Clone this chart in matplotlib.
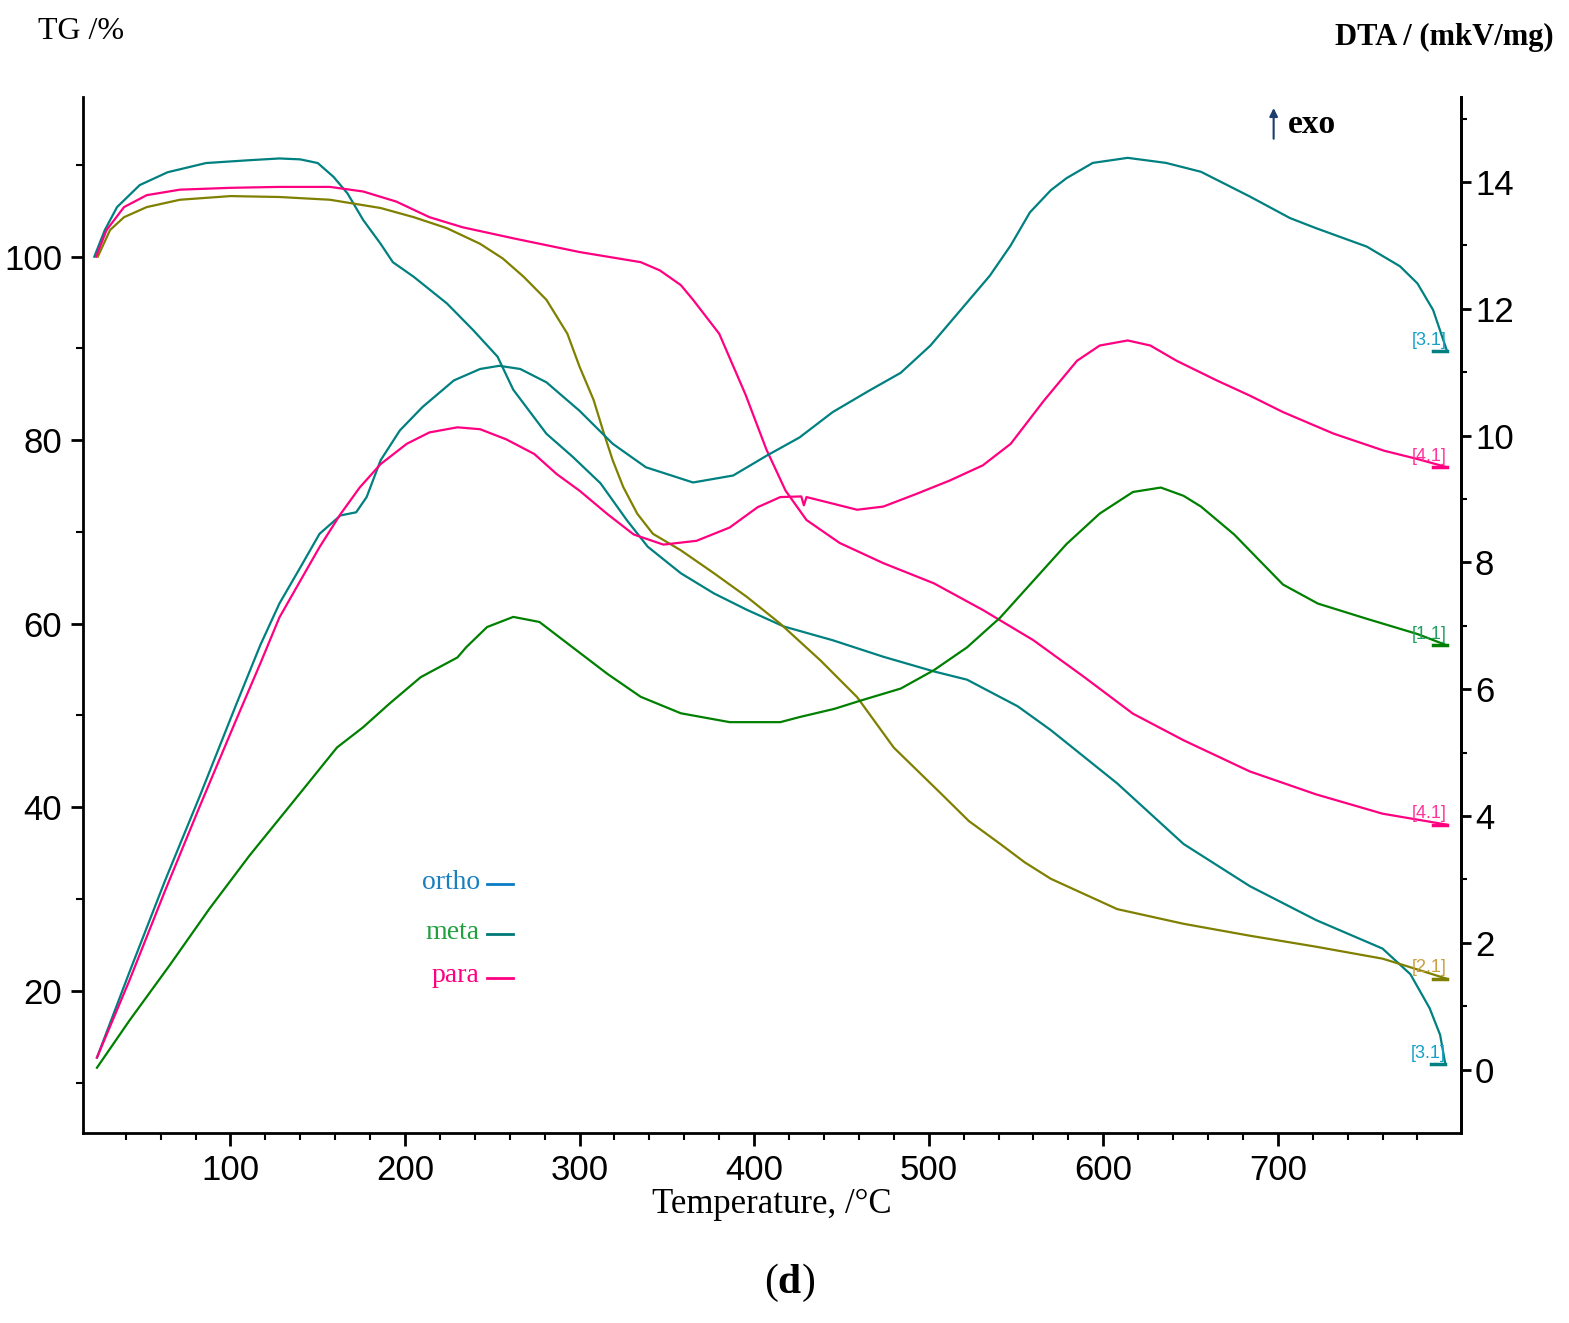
import matplotlib
matplotlib.use('Agg')
import matplotlib.pyplot as plt
from matplotlib.ticker import FixedLocator

# TG curves (left axis, %)
temp_ortho_tg = [22, 28, 35, 48, 64, 86, 110, 128, 140, 150, 159, 167, 176, 186, 193, 205, 224, 239, 253, 262,
                 281, 296, 312, 327, 339, 358, 377, 396, 417, 445, 474, 503, 522, 537, 551, 570, 589, 608, 646, 684,
                 722, 760, 776, 787, 793, 796]
tg_ortho = [100.0, 102.9, 105.4, 107.8, 109.2, 110.2, 110.5, 110.7, 110.6, 110.2, 108.7, 106.9, 104.0, 101.4, 99.4,
            97.8, 94.9, 92.0, 89.1, 85.5, 80.7, 78.2, 75.3, 71.3, 68.4, 65.5, 63.3, 61.5, 59.7, 58.2, 56.4, 54.8,
            53.9, 52.4, 51.0, 48.4, 45.5, 42.6, 36.0, 31.4, 27.7, 24.6, 21.8, 18.1, 15.2, 12.0]

temp_meta_tg = [24, 31, 39, 52, 71, 100, 128, 157, 186, 205, 224, 243, 256, 268, 281, 293, 300, 308, 314, 319,
                325, 333, 342, 358, 377, 396, 415, 438, 459, 480, 507, 523, 541, 555, 570, 608, 646, 684, 722, 760,
                772, 797]
tg_meta = [100.0, 102.9, 104.3, 105.4, 106.2, 106.6, 106.5, 106.2, 105.3, 104.3, 103.1, 101.4, 99.8, 97.8, 95.3,
           91.6, 88.0, 84.4, 80.7, 77.8, 74.9, 72.0, 69.8, 68.0, 65.5, 62.9, 60.0, 56.0, 52.0, 46.5, 41.5, 38.5,
           36.0, 34.0, 32.2, 28.9, 27.3, 26.0, 24.8, 23.5, 22.8, 21.3]

temp_para_tg = [23, 29, 39, 52, 71, 100, 128, 157, 176, 195, 214, 233, 262, 300, 335, 346, 358, 365, 380, 395,
                407, 418, 430, 449, 474, 503, 531, 560, 589, 617, 646, 684, 722, 760, 797]
tg_para = [100.0, 102.9, 105.4, 106.7, 107.3, 107.5, 107.6, 107.6, 107.1, 106.0, 104.3, 103.2, 102.0, 100.5, 99.4,
           98.5, 96.9, 95.3, 91.6, 85.0, 79.0, 74.5, 71.3, 68.8, 66.6, 64.4, 61.5, 58.2, 54.2, 50.2, 47.3, 43.9,
           41.4, 39.3, 38.1]

# DTA curves (right axis, mkV/mg)
temp_ortho_dta = [23.5, 42, 62.5, 82.5, 103, 117, 128, 140, 151, 163, 172, 178, 186, 197, 210, 228, 243, 254, 266,
                  281, 300, 319, 338, 365, 388, 407, 426, 445, 466, 484, 501, 518, 535, 547, 558, 570, 579, 594,
                  614, 636, 656, 684, 707, 722, 751, 770, 780, 789, 797]
dta_ortho = [0.19, 1.53, 2.98, 4.32, 5.74, 6.69, 7.35, 7.92, 8.45, 8.74, 8.79, 9.03, 9.61, 10.08, 10.45, 10.87,
             11.05, 11.10, 11.05, 10.84, 10.39, 9.87, 9.50, 9.26, 9.37, 9.68, 9.97, 10.37, 10.71, 10.99, 11.42,
             11.97, 12.52, 13.0, 13.52, 13.87, 14.06, 14.30, 14.38, 14.30, 14.16, 13.77, 13.43, 13.27, 12.98,
             12.67, 12.40, 11.98, 11.33]

temp_para_dta = [23.5, 42, 62.5, 82.5, 103, 117, 128, 140, 151, 163, 174, 186, 201, 214, 230, 243, 258, 274, 287,
                 300, 316, 331, 348, 367, 386, 402, 415, 427, 428.5, 430, 446, 459, 474, 493, 512, 531, 547, 566,
                 585, 598, 614, 627, 642, 665, 684, 703, 732, 761, 780, 797]
dta_para = [0.19, 1.40, 2.82, 4.16, 5.50, 6.40, 7.13, 7.71, 8.24, 8.76, 9.18, 9.55, 9.87, 10.05, 10.13, 10.10,
            9.94, 9.71, 9.39, 9.13, 8.76, 8.44, 8.28, 8.34, 8.55, 8.87, 9.03, 9.04, 8.90, 9.03, 8.92, 8.83, 8.88,
            9.08, 9.29, 9.53, 9.87, 10.55, 11.18, 11.42, 11.50, 11.42, 11.18, 10.87, 10.63, 10.37, 10.03, 9.76,
            9.63, 9.50]

temp_meta_dta = [23.5, 42, 65, 88, 111, 134, 161, 176, 191, 209, 230, 235, 247, 262, 277, 296, 316, 335, 358, 386,
                 415, 426, 446, 461, 484, 503, 522, 541, 560, 579, 598, 617, 633, 646, 656, 675, 703, 723, 751,
                 780, 797]
dta_meta = [0.03, 0.77, 1.64, 2.54, 3.38, 4.16, 5.08, 5.40, 5.77, 6.19, 6.50, 6.66, 6.98, 7.14, 7.06, 6.66, 6.24,
            5.88, 5.62, 5.48, 5.48, 5.56, 5.69, 5.82, 6.01, 6.30, 6.66, 7.13, 7.71, 8.29, 8.77, 9.11, 9.18, 9.05,
            8.88, 8.44, 7.65, 7.35, 7.11, 6.87, 6.69]

x_major = [100, 200, 300, 400, 500, 600, 700]
x_minor = [t for t in range(40, 800, 20) if t % 100 != 0]
tg_major = [20, 40, 60, 80, 100]
tg_minor = [10, 30, 50, 70, 90, 110]
dta_major = [0, 2, 4, 6, 8, 10, 12, 14]
dta_minor = [1, 3, 5, 7, 9, 11, 13, 15]

TEAL = '#008080'
OLIVE = '#808000'
PINK = '#ff0080'
GREEN = '#008000'

plt.rcParams['font.family'] = ['Liberation Sans']
plt.rcParams['mathtext.fontset'] = 'custom'
plt.rcParams['mathtext.rm'] = 'Liberation Serif'
plt.rcParams['mathtext.bf'] = 'Liberation Serif:bold'

fig = plt.figure(figsize=(15.69, 13.23), dpi=100)
ax = fig.add_axes([0.0529, 0.1436, 0.8783, 0.7831])
ax2 = ax.twinx()

lw = 1.6
ax.plot(temp_ortho_tg, tg_ortho, color=TEAL, lw=lw)
ax.plot(temp_meta_tg, tg_meta, color=OLIVE, lw=lw)
ax.plot(temp_para_tg, tg_para, color=PINK, lw=lw)
ax2.plot(temp_ortho_dta, dta_ortho, color=TEAL, lw=lw)
ax2.plot(temp_para_dta, dta_para, color=PINK, lw=lw)
ax2.plot(temp_meta_dta, dta_meta, color=GREEN, lw=lw)

ax.set_xlim(15.5, 805)
ax.set_ylim(4.5, 117.4)
ax2.set_ylim(-1.0, 15.34)

for a in (ax, ax2):
    a.spines['top'].set_visible(False)
    for s in a.spines.values():
        s.set_linewidth(2)
ax2.spines['left'].set_visible(False)
ax2.spines['bottom'].set_visible(False)

ax.xaxis.set_major_locator(FixedLocator(x_major))
ax.xaxis.set_minor_locator(FixedLocator(x_minor))
ax.yaxis.set_major_locator(FixedLocator(tg_major))
ax.yaxis.set_minor_locator(FixedLocator(tg_minor))
ax2.yaxis.set_major_locator(FixedLocator(dta_major))
ax2.yaxis.set_minor_locator(FixedLocator(dta_minor))

ax.tick_params(which='major', direction='out', length=9, width=2, labelsize=25, pad=6)
ax.tick_params(which='minor', direction='out', length=5, width=1.5)
ax2.tick_params(which='major', direction='out', length=7, width=2, labelsize=25, pad=3)
ax2.tick_params(which='minor', direction='out', length=4, width=1.5)

ax.set_xlabel('Temperature, /°C', family='Liberation Serif', fontsize=25, labelpad=1)

# curve end labels
ends = [(ax2, temp_ortho_dta, dta_ortho, '[3.1]', TEAL, '#16a0c8'),
        (ax2, temp_para_dta, dta_para, '[4.1]', PINK, '#ff3399'),
        (ax2, temp_meta_dta, dta_meta, '[1.1]', GREEN, '#20a060'),
        (ax, temp_meta_tg, tg_meta, '[2.1]', OLIVE, '#c8a040'),
        (ax, temp_para_tg, tg_para, '[4.1]', PINK, '#ff3399'),
        (ax, temp_ortho_tg, tg_ortho, '[3.1]', TEAL, '#16a0c8')]
for a, t, v, lab, c, lc in ends:
    a.plot([t[-1] - 8, t[-1]], [v[-1], v[-1]], color=c, lw=2.5)
    a.annotate(lab, xy=(t[-1], v[-1]), xytext=(0, 11), textcoords='offset pixels',
               ha='right', va='center', color=lc, fontsize=13)

# legend drawn by hand like the original
leg = [('ortho', '#1a7fc0', '#0a7cc4', 0.242),
       ('meta', '#22a040', '#007878', 0.194),
       ('para', PINK, PINK, 0.152)]
for name, tc, lc, y in leg:
    ax.text(0.288, y, name, transform=ax.transAxes, ha='right', va='center',
            family='Liberation Serif', fontsize=20, color=tc)
    ax.plot([0.293, 0.312], [y - 0.002, y - 0.002], transform=ax.transAxes, color=lc, lw=2)

ax.annotate('', xy=(0.864, 0.992), xytext=(0.864, 0.957), xycoords='axes fraction',
            arrowprops=dict(arrowstyle='-|>', color='#1c3d6e', lw=1.5, mutation_scale=12))
ax.text(0.874, 0.973, 'exo', transform=ax.transAxes, va='center', ha='left',
        family='Liberation Serif', fontweight='bold', fontsize=24)

fig.text(0.024, 0.976, 'TG /%', family='Liberation Serif', fontsize=23, va='center', ha='left')
fig.text(0.990, 0.972, 'DTA / (mkV/mg)', family='Liberation Serif', fontweight='bold', fontsize=22,
         va='center', ha='right')
fig.text(0.503, 0.030, r'$\mathrm{(}\mathbf{d}\mathrm{)}$', fontsize=30, va='center', ha='center')

fig.savefig('out.png', dpi=100)
